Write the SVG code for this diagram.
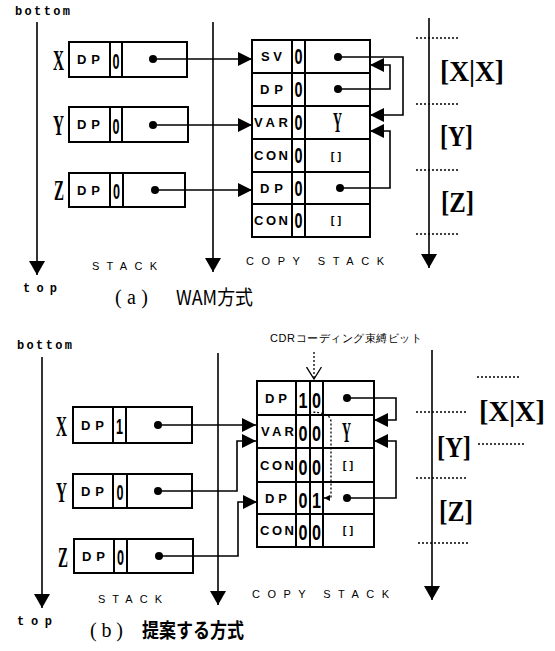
<svg xmlns="http://www.w3.org/2000/svg" width="555" height="651" viewBox="0 0 555 651">
<style>
.box{fill:none;stroke:#000;stroke-width:2}
.ln{fill:none;stroke:#000;stroke-width:1.6}
.ax{fill:none;stroke:#000;stroke-width:1.6}
.dash{fill:none;stroke:#000;stroke-width:1.3;stroke-dasharray:2 2}
.dot{fill:#000}
.tag{font-family:"Liberation Sans","DejaVu Sans",sans-serif;font-weight:bold;font-size:13px}
.bit{font-family:"Liberation Sans","DejaVu Sans",sans-serif;font-weight:bold;font-size:22px}
.big{font-family:"Liberation Serif","DejaVu Serif",serif;font-weight:bold;font-size:30px}
.nil{font-family:"Liberation Sans",sans-serif;font-weight:bold;font-size:11px;text-anchor:middle}
.mono{font-family:"Liberation Mono","DejaVu Sans Mono",monospace;font-weight:bold;font-size:12px}
.lbl{font-family:"Liberation Sans","DejaVu Sans",sans-serif;font-size:11px}
.cap{font-family:"Liberation Serif","Noto Sans CJK JP",serif;font-size:20px}
.cjk{font-family:"Noto Sans CJK JP",sans-serif;font-size:20px}
</style>
<defs>
<marker id="ah" viewBox="0 0 14 14" refX="14" refY="7" markerWidth="14" markerHeight="14" markerUnits="userSpaceOnUse" orient="auto"><path d="M0,0 L14,7 L0,14 Z"/></marker>
<marker id="big" viewBox="0 0 14 16" refX="14" refY="8" markerWidth="14" markerHeight="16" markerUnits="userSpaceOnUse" orient="auto"><path d="M0,0 L14,8 L0,16 Z"/></marker>
<marker id="vee" viewBox="0 0 13 17" refX="12" refY="8.5" markerWidth="13" markerHeight="17" markerUnits="userSpaceOnUse" orient="auto"><path d="M0,1 L12,8.5 L0,16" fill="none" stroke="#000" stroke-width="1.3"/></marker>
<marker id="sm" viewBox="0 0 6 6" refX="6" refY="3" markerWidth="6" markerHeight="6" markerUnits="userSpaceOnUse" orient="auto"><path d="M0,0 L6,3 L0,6 Z"/></marker>
</defs>
<rect width="555" height="651" fill="#fff"/>

<!-- ===== (a) WAM ===== -->
<g id="a-axes">
<text class="mono" x="15" y="15" textLength="55">bottom</text>
<text class="mono" x="23" y="292" textLength="34">top</text>
<path class="ax" d="M37,22 V275" marker-end="url(#big)"/>
<path class="ax" d="M213,22 V272" marker-end="url(#big)"/>
<path class="ax" d="M429,18 V268" marker-end="url(#big)"/>
<text class="lbl" x="92" y="270" textLength="65">STACK</text>
<text class="lbl" x="246" y="265" textLength="138">COPY STACK</text>
</g>

<g id="a-X">
<text class="big" x="53" y="70" textLength="11" lengthAdjust="spacingAndGlyphs">X</text>
<rect class="box" x="69" y="42" width="118" height="35"/>
<path class="box" d="M110,42 V77 M122,42 V77"/>
<text class="tag" x="77" y="64" textLength="23">DP</text>
<text class="bit" x="112.5" y="68.5" font-size="26" textLength="7" lengthAdjust="spacingAndGlyphs">0</text>
<circle class="dot" cx="153" cy="59" r="4"/>
</g>
<g id="a-Y">
<text class="big" x="53" y="135" textLength="11" lengthAdjust="spacingAndGlyphs">Y</text>
<rect class="box" x="69" y="107" width="119" height="35"/>
<path class="box" d="M110,107 V142 M122,107 V142"/>
<text class="tag" x="77" y="129" textLength="23">DP</text>
<text class="bit" x="112.5" y="133.5" font-size="26" textLength="7" lengthAdjust="spacingAndGlyphs">0</text>
<circle class="dot" cx="153" cy="125" r="4"/>
</g>
<g id="a-Z">
<text class="big" x="54" y="200" textLength="10" lengthAdjust="spacingAndGlyphs">Z</text>
<rect class="box" x="69" y="173" width="116" height="34"/>
<path class="box" d="M110,173 V207 M123,173 V207"/>
<text class="tag" x="77" y="194.5" textLength="23">DP</text>
<text class="bit" x="113" y="199" font-size="26" textLength="7" lengthAdjust="spacingAndGlyphs">0</text>
<circle class="dot" cx="155" cy="190" r="4"/>
</g>

<g id="a-copy1">
<rect class="box" x="252" y="40" width="118" height="33"/>
<path class="box" d="M292,40 V73 M305,40 V73"/>
<text class="tag" x="261" y="61" textLength="21">SV</text>
<text class="bit" x="294.5" y="64" textLength="8" lengthAdjust="spacingAndGlyphs">0</text>
<circle class="dot" cx="338" cy="57" r="4"/>
</g>
<g id="a-copy2">
<rect class="box" x="252" y="73" width="118" height="33"/>
<path class="box" d="M292,73 V106 M305,73 V106"/>
<text class="tag" x="260" y="94" textLength="23">DP</text>
<text class="bit" x="294.5" y="97" textLength="8" lengthAdjust="spacingAndGlyphs">0</text>
<circle class="dot" cx="338" cy="89" r="4"/>
</g>
<g id="a-copy3">
<rect class="box" x="252" y="106" width="118" height="33"/>
<path class="box" d="M292,106 V139 M305,106 V139"/>
<text class="tag" x="254" y="127" textLength="34">VAR</text>
<text class="bit" x="294.5" y="130" textLength="8" lengthAdjust="spacingAndGlyphs">0</text>
<text class="big" x="333" y="132" font-size="27" textLength="9" lengthAdjust="spacingAndGlyphs">Y</text>
</g>
<g id="a-copy4">
<rect class="box" x="252" y="139" width="118" height="33"/>
<path class="box" d="M292,139 V172 M305,139 V172"/>
<text class="tag" x="254" y="160" textLength="34">CON</text>
<text class="bit" x="294.5" y="163" textLength="8" lengthAdjust="spacingAndGlyphs">0</text>
<text class="nil" x="336" y="160">[ ]</text>
</g>
<g id="a-copy5">
<rect class="box" x="252" y="172" width="118" height="32"/>
<path class="box" d="M292,172 V204 M305,172 V204"/>
<text class="tag" x="260" y="192.5" textLength="23">DP</text>
<text class="bit" x="294.5" y="195.5" textLength="8" lengthAdjust="spacingAndGlyphs">0</text>
<circle class="dot" cx="340" cy="188" r="4"/>
</g>
<g id="a-copy6">
<rect class="box" x="252" y="204" width="118" height="33"/>
<path class="box" d="M292,204 V237 M305,204 V237"/>
<text class="tag" x="254" y="225" textLength="34">CON</text>
<text class="bit" x="294.5" y="228" textLength="8" lengthAdjust="spacingAndGlyphs">0</text>
<text class="nil" x="336" y="224">[ ]</text>
</g>

<g id="a-segments">
<path class="dash" d="M416,38 H459 M416,104 H459 M416,170 H459 M416,234 H459"/>
<text class="big" x="440" y="81" font-size="27" textLength="64" lengthAdjust="spacingAndGlyphs">[X|X]</text>
<text class="big" x="440" y="146" font-size="27" textLength="33" lengthAdjust="spacingAndGlyphs">[Y]</text>
<text class="big" x="441" y="212" font-size="27" textLength="33" lengthAdjust="spacingAndGlyphs">[Z]</text>
</g>

<g id="a-caption">
<text class="cap" x="115" y="304" textLength="33">(a)</text>
<text class="cjk" x="176" y="305" textLength="77" lengthAdjust="spacingAndGlyphs">WAM方式</text>
</g>

<!-- ===== (b) proposed ===== -->
<g id="b-axes">
<text class="mono" x="17" y="349" textLength="55">bottom</text>
<text class="mono" x="17" y="625" textLength="35">top</text>
<path class="ax" d="M42,357 V608" marker-end="url(#big)"/>
<path class="ax" d="M218,353 V605" marker-end="url(#big)"/>
<path class="ax" d="M432,350 V600" marker-end="url(#big)"/>
<text class="lbl" x="98" y="603" textLength="64">STACK</text>
<text class="lbl" x="252" y="598" textLength="137">COPY STACK</text>
</g>

<g id="b-X">
<text class="big" x="56" y="436" textLength="11" lengthAdjust="spacingAndGlyphs">X</text>
<rect class="box" x="73" y="407" width="119" height="36"/>
<path class="box" d="M113,407 V443 M126,407 V443"/>
<text class="tag" x="81" y="430" textLength="23">DP</text>
<text class="bit" x="116" y="434" font-size="26" textLength="7" lengthAdjust="spacingAndGlyphs">1</text>
<circle class="dot" cx="158" cy="425" r="4"/>
</g>
<g id="b-Y">
<text class="big" x="56" y="502" textLength="11" lengthAdjust="spacingAndGlyphs">Y</text>
<rect class="box" x="73" y="474" width="119" height="34"/>
<path class="box" d="M113,474 V508 M127,474 V508"/>
<text class="tag" x="81" y="495.5" textLength="23">DP</text>
<text class="bit" x="116.5" y="500" font-size="26" textLength="7" lengthAdjust="spacingAndGlyphs">0</text>
<circle class="dot" cx="158" cy="491" r="4"/>
</g>
<g id="b-Z">
<text class="big" x="58" y="567" textLength="10" lengthAdjust="spacingAndGlyphs">Z</text>
<rect class="box" x="74" y="539" width="119" height="34"/>
<path class="box" d="M114,539 V573 M127,539 V573"/>
<text class="tag" x="82" y="560.5" textLength="23">DP</text>
<text class="bit" x="117" y="565" font-size="26" textLength="7" lengthAdjust="spacingAndGlyphs">0</text>
<circle class="dot" cx="159" cy="556" r="4"/>
</g>

<g id="b-copy1">
<rect class="box" x="257" y="381" width="117" height="34"/>
<path class="box" d="M296,381 V415 M310,381 V415 M323,381 V415"/>
<text class="tag" x="265" y="402.5" textLength="22">DP</text>
<text class="bit" x="298.5" y="407.5" font-size="26" textLength="9" lengthAdjust="spacingAndGlyphs">1</text>
<text class="bit" x="312" y="407.5" font-size="26" textLength="9" lengthAdjust="spacingAndGlyphs">0</text>
<circle class="dot" cx="347" cy="398" r="4"/>
</g>
<g id="b-copy2">
<rect class="box" x="257" y="415" width="117" height="33"/>
<path class="box" d="M296,415 V448 M310,415 V448 M323,415 V448"/>
<text class="tag" x="261" y="436" textLength="33">VAR</text>
<text class="bit" x="298.5" y="441" font-size="26" textLength="9" lengthAdjust="spacingAndGlyphs">0</text>
<text class="bit" x="312" y="441" font-size="26" textLength="9" lengthAdjust="spacingAndGlyphs">0</text>
<text class="big" x="342" y="442" font-size="27" textLength="9" lengthAdjust="spacingAndGlyphs">Y</text>
</g>
<g id="b-copy3">
<rect class="box" x="257" y="448" width="117" height="34"/>
<path class="box" d="M296,448 V482 M310,448 V482 M323,448 V482"/>
<text class="tag" x="260" y="469.5" textLength="34">CON</text>
<text class="bit" x="298.5" y="474.5" font-size="26" textLength="9" lengthAdjust="spacingAndGlyphs">0</text>
<text class="bit" x="312" y="474.5" font-size="26" textLength="9" lengthAdjust="spacingAndGlyphs">0</text>
<text class="nil" x="348" y="469">[ ]</text>
</g>
<g id="b-copy4">
<rect class="box" x="257" y="482" width="117" height="32"/>
<path class="box" d="M296,482 V514 M310,482 V514 M323,482 V514"/>
<text class="tag" x="265" y="502.5" textLength="22">DP</text>
<text class="bit" x="298.5" y="507.5" font-size="26" textLength="9" lengthAdjust="spacingAndGlyphs">0</text>
<text class="bit" x="312" y="507.5" font-size="26" textLength="9" lengthAdjust="spacingAndGlyphs">1</text>
<circle class="dot" cx="347" cy="498" r="4"/>
</g>
<g id="b-copy5">
<rect class="box" x="257" y="514" width="117" height="33"/>
<path class="box" d="M296,514 V547 M310,514 V547 M323,514 V547"/>
<text class="tag" x="260" y="535" textLength="34">CON</text>
<text class="bit" x="298.5" y="540" font-size="26" textLength="9" lengthAdjust="spacingAndGlyphs">0</text>
<text class="bit" x="312" y="540" font-size="26" textLength="9" lengthAdjust="spacingAndGlyphs">0</text>
<text class="nil" x="348" y="534">[ ]</text>
</g>

<g id="b-cdr-label">
<text class="lbl" x="270" y="342" textLength="152" font-family="'Liberation Sans','Noto Sans CJK JP',sans-serif">CDRコーディング束縛ビット</text>
</g>

<g id="b-segments">
<path class="dash" d="M477,377 H521 M416,412 H467 M478,444 H525 M416,478 H468 M418,543 H469"/>
<text class="big" x="479" y="421" font-size="27" textLength="66" lengthAdjust="spacingAndGlyphs">[X|X]</text>
<text class="big" x="437" y="457" font-size="27" textLength="34" lengthAdjust="spacingAndGlyphs">[Y]</text>
<text class="big" x="439" y="521" font-size="27" textLength="34" lengthAdjust="spacingAndGlyphs">[Z]</text>
</g>

<g id="b-caption">
<text class="cap" x="90" y="637" font-size="24" textLength="33">(b)</text>
<text class="cjk" x="142" y="638" font-size="22" font-weight="bold" textLength="102" lengthAdjust="spacingAndGlyphs">提案する方式</text>
</g>

<g id="connectors">
<path class="ln" d="M153,59 H252" marker-end="url(#ah)"/>
<path class="ln" d="M153,125 H252" marker-end="url(#ah)"/>
<path class="ln" d="M155,190 H252" marker-end="url(#ah)"/>
<path class="ln" d="M338,57 H403 V115 H370" marker-end="url(#ah)"/>
<path class="ln" d="M338,89 H390 V65 H370" marker-end="url(#ah)"/>
<path class="ln" d="M340,188 H390 V131 H370" marker-end="url(#ah)"/>

<path class="ln" d="M158,425 H256" marker-end="url(#ah)"/>
<path class="ln" d="M158,491 H237 V441 H256" marker-end="url(#ah)"/>
<path class="ln" d="M159,556 H238 V502 H257" marker-end="url(#ah)"/>
<path class="ln" d="M347,398 H396 V420 H374" marker-end="url(#ah)"/>
<path class="ln" d="M347,498 H396 V441 H374" marker-end="url(#ah)"/>
<path class="dash" d="M314,352 V379" marker-end="url(#vee)"/>
<path class="dash" d="M309,412 Q331,412 331,422 V498 H324" marker-end="url(#sm)"/>
</g>
</svg>
